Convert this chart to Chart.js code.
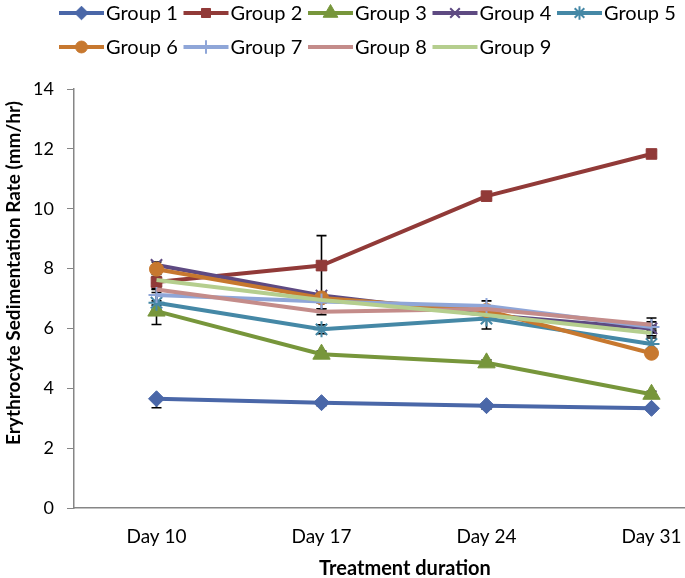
<!DOCTYPE html>
<html>
<head>
<meta charset="utf-8">
<script src="https://cdn.jsdelivr.net/npm/chart.js@4.4.1/dist/chart.umd.min.js"></script>
<style>
  html,body{margin:0;padding:0;background:#fff;overflow:hidden}
  #wrap{width:745px;height:578px}
</style>
</head>
<body>
<div id="wrap"><canvas id="esrChart" width="745" height="578"></canvas></div>
<script>
// treatment days on the x axis
const days = ["Day 10", "Day 17", "Day 24", "Day 31"];
const groupNames = ["Group 1","Group 2","Group 3","Group 4","Group 5","Group 6","Group 7","Group 8","Group 9"];
const yTicks = [0, 2, 4, 6, 8, 10, 12, 14];

// ESR (mm/hr)
const group1 = [3.65, 3.52, 3.42, 3.33];
const group2 = [7.55, 8.10, 10.42, 11.83];
const group3 = [6.58, 5.14, 4.85, 3.80];
const group4 = [8.12, 7.10, 6.45, 6.00];
const group5 = [6.86, 5.97, 6.33, 5.48];
const group6 = [7.98, 7.02, 6.60, 5.17];
const group7 = [7.12, 6.90, 6.75, 6.05];
const group8 = [7.30, 6.56, 6.65, 6.12];
const group9 = [7.62, 6.95, 6.45, 5.85];

// error bars as [minus, plus] per day
const err1 = [[0.30, 0], [0.10, 0], [0.12, 0], [0.08, 0]];
const err2 = [[0.25, 0.25], [1.00, 1.00], [0.08, 0.08], [0.10, 0.10]];
const err3 = [[0.45, 0.20], [0.10, 0.10], [0.10, 0.10], [0.10, 0.10]];
const err4 = [[0.10, 0.10], [0.10, 0.10], [0.10, 0.10], [0.10, 0.10]];
const err5 = [[0.25, 0.25], [0.15, 0.15], [0.35, 0.20], [0.20, 0.20]];
const err6 = [[0.10, 0.10], [0.10, 0.10], [0.10, 0.10], [0.10, 0.10]];
const err7 = [[0.20, 0.20], [0.25, 0.10], [0.15, 0.17], [0.20, 0.30]];
const err8 = [[0.10, 0.10], [0.10, 0.10], [0.10, 0.10], [0.10, 0.10]];
const err9 = [[0.10, 0.10], [0.10, 0.10], [0.10, 0.10], [0.10, 0.10]];

const seriesData = [group1, group2, group3, group4, group5, group6, group7, group8, group9];
const seriesErr = [err1, err2, err3, err4, err5, err6, err7, err8, err9];
const colors = ["#4A67A8","#913A38","#77963B","#5E4A82","#4588A6","#C7782F","#8FA6D8","#C48C8A","#B5CE8E"];
const markers = ["rectRot","rect","triangle","crossRot","star","circle","cross",false,false];
const markerSize = [8, 7.5, 10, 8, 8, 7, 8, 0, 0];

const FONT = "Lato, 'Open Sans', sans-serif";

const datasets = seriesData.map((d, i) => ({
  label: groupNames[i],
  data: d,
  errors: seriesErr[i],
  borderColor: colors[i],
  backgroundColor: colors[i],
  borderWidth: 4,
  tension: 0,
  pointStyle: markers[i],
  pointRadius: markerSize[i],
  pointHoverRadius: markerSize[i],
  pointBorderWidth: (i === 3 || i === 4 || i === 6) ? 2 : 1,
  order: 9 - i
}));

const errorBars = {
  id: "errorBars",
  beforeDatasetsDraw(chart){
    const ctx = chart.ctx, y = chart.scales.y;
    ctx.save();
    ctx.strokeStyle = "#000";
    ctx.lineWidth = 1.6;
    chart.data.datasets.forEach((ds, i) => {
      const meta = chart.getDatasetMeta(i);
      ds.data.forEach((v, j) => {
        const [lo, hi] = ds.errors[j];
        const px = meta.data[j].x, py = y.getPixelForValue(v);
        ctx.beginPath();
        if(hi > 0){
          const top = y.getPixelForValue(v + hi);
          ctx.moveTo(px, py); ctx.lineTo(px, top);
          ctx.moveTo(px - 5, top); ctx.lineTo(px + 5, top);
        }
        if(lo > 0){
          const bot = y.getPixelForValue(v - lo);
          ctx.moveTo(px, py); ctx.lineTo(px, bot);
          ctx.moveTo(px - 5, bot); ctx.lineTo(px + 5, bot);
        }
        ctx.stroke();
      });
    });
    ctx.restore();
  }
};

const legendAndTitles = {
  id: "legendAndTitles",
  afterDraw(chart){
    const ctx = chart.ctx;
    ctx.save();
    ctx.font = "20px " + FONT;
    ctx.textBaseline = "middle";
    ctx.textAlign = "left";
    groupNames.forEach((name, i) => {
      const col = i % 5, row = Math.floor(i / 5);
      const x0 = 59 + col * 124.5, cy = row ? 47 : 13;
      ctx.strokeStyle = colors[i];
      ctx.lineWidth = 4;
      ctx.beginPath(); ctx.moveTo(x0, cy); ctx.lineTo(x0 + 45, cy); ctx.stroke();
      if(markers[i]){
        ctx.fillStyle = colors[i];
        ctx.lineWidth = (i === 3 || i === 4 || i === 6) ? 2 : 1;
        Chart.helpers.drawPoint(ctx, { pointStyle: markers[i], radius: markerSize[i] * 0.85, rotation: 0, borderWidth: ctx.lineWidth }, x0 + 22.5, cy);
      }
      ctx.fillStyle = "#000";
      ctx.fillText(name, x0 + 47, cy + 1);
    });

    ctx.textAlign = "center";
    ctx.font = "bold 20px " + FONT;
    ctx.fillText("Treatment duration", 405, 569);
    ctx.font = "bold 19px " + FONT;
    ctx.translate(14, 273);
    ctx.rotate(-Math.PI / 2);
    ctx.fillText("Erythrocyte Sedimentation Rate (mm/hr)", 0, 0);
    ctx.restore();
  }
};

new Chart(document.getElementById("esrChart").getContext("2d"), {
  type: "line",
  data: { labels: days, datasets },
  options: {
    responsive: false,
    animation: false,
    devicePixelRatio: 1,
    layout: { padding: { top: 89, right: 9, left: 0, bottom: 0 } },
    plugins: { legend: { display: false }, tooltip: { enabled: false } },
    scales: {
      x: {
        offset: true,
        grid: { display: false, drawTicks: false },
        border: { color: "#868686", width: 1.5 },
        ticks: { color: "#000", font: { family: FONT, size: 19 }, padding: 17 },
        afterFit: s => { s.height = 70; }
      },
      y: {
        min: 0, max: 14,
        afterBuildTicks: s => { s.ticks = yTicks.map(v => ({ value: v })); },
        grid: { drawOnChartArea: false, tickLength: 7, color: "#868686" },
        border: { color: "#868686", width: 1.5 },
        ticks: { color: "#000", font: { family: FONT, size: 18 }, padding: 13 },
        afterFit: s => { s.width = 74; }
      }
    }
  },
  plugins: [errorBars, legendAndTitles]
});
</script>
</body>
</html>
